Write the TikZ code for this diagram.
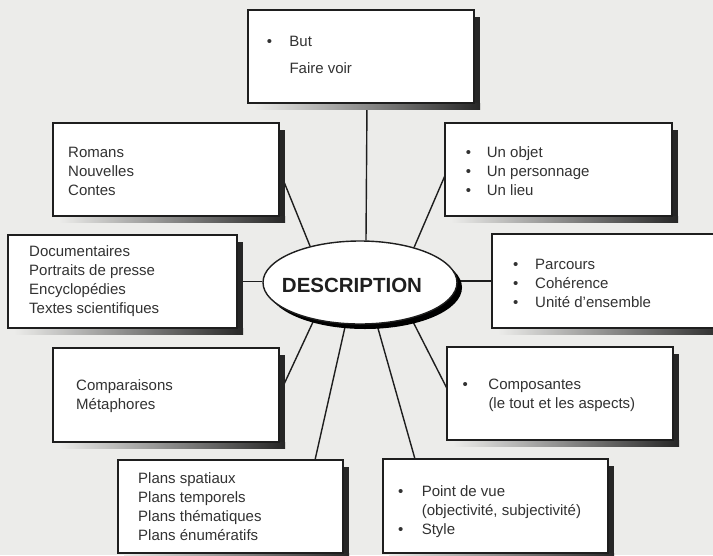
\documentclass[tikz,border=0pt]{standalone}
\usepackage{fontspec}
\setmainfont{Liberation Sans}
\usetikzlibrary{shapes.geometric}
\definecolor{paper}{RGB}{236,236,234}
\definecolor{ink}{RGB}{50,50,50}
\definecolor{edge}{RGB}{30,30,30}
\newcommand{\bul}[1]{\makebox[#1][l]{\textbullet}}
\newcommand{\txtrows}[1]{\begin{tabular}[t]{@{}l@{}}#1\end{tabular}}
\newcommand{\shbox}[5]{%
  \fill[black!85] (#4,#3+7) rectangle (#4+6,#5+6);
  \shade[left color=paper,right color=black!85] (#2+6,#5) rectangle (#4+6,#5+6);
  \node[boxnode, minimum width={(#4-#2)*1pt}, minimum height={(#5-#3)*1pt}] (#1) at ({(#2+#4)/2},{(#3+#5)/2}) {};
}
\pgfdeclarelayer{paperlayer}
\pgfdeclarelayer{linelayer}
\pgfsetlayers{paperlayer,linelayer,main}
\tikzset{
  boxnode/.style={draw=edge, fill=white, line width=1.4pt, inner sep=0pt, outer sep=0pt},
  txt/.style={inner sep=0pt, anchor=base west, text=ink, font=\fontsize{15}{19}\selectfont},
  conn/.style={draw=edge, line width=1.4pt},
}
\begin{document}
\begin{tikzpicture}[x=1pt, y=-1pt]
\useasboundingbox (0,0) rectangle (713,555);
\begin{pgfonlayer}{paperlayer}
  \fill[paper] (0,0) rectangle (713,555);
\end{pgfonlayer}

% boxes
\shbox{top}{248}{10}{474}{103}
\shbox{rom}{53}{123}{279}{216}
\shbox{doc}{8}{235}{237}{328}
\shbox{comp}{53}{348}{279}{442}
\shbox{plans}{118}{460}{343}{553}
\shbox{obj}{445}{123}{672}{216}
\shbox{parc}{492}{234}{722}{328}
\shbox{compo}{447}{347}{673}{440}
\shbox{pdv}{383}{459}{608}{553}

% central ellipse
\node[ellipse, fill=black, minimum width=194pt, minimum height=83pt, inner sep=0pt] (ellsh) at (365,287.5) {};
\node[ellipse, draw=edge, fill=white, line width=1.4pt, minimum width=194pt, minimum height=83pt, inner sep=0pt] (ell) at (360,282.5) {};
\node[inner sep=0pt, anchor=base, text=black!88, font=\fontsize{20.5}{24}\selectfont\bfseries] (desc) at (352,292.5) {DESCRIPTION};

% connectors
\begin{pgfonlayer}{linelayer}
  \draw[conn] ([xshift=6pt]top.south) -- ([xshift=6pt]ell.north);
  \draw[conn] (rom.east) -- (ell.144);
  \draw[conn] (doc.east) -- (doc.east -| ell.west);
  \draw[conn] (comp.east) -- (ell.219);
  \draw[conn] ([xshift=-28pt]plans.north east) -- (ell.251);
  \draw[conn] ([yshift=-6pt]obj.west) -- (ell.33);
  \draw[conn] (ell.east |- parc.west) -- (parc.west);
  \draw[conn] ([yshift=5pt]compo.west) -- (ell.-35);
  \draw[conn] ([xshift=32pt]pdv.north west) -- (ell.-68);
\end{pgfonlayer}

% texts
\node[txt] (topt) at (266.7,46) {\txtrows{\bul{22.6pt}But\\[8pt]\hspace*{22.6pt}Faire voir}};
\node[txt] (romt) at (68,157) {\txtrows{Romans\\Nouvelles\\Contes}};
\node[txt] (doct) at (29,256) {\txtrows{Documentaires\\Portraits de presse\\Encyclopédies\\Textes scientifiques}};
\node[txt] (compt) at (76,390) {\txtrows{Comparaisons\\Métaphores}};
\node[txt] (planst) at (138,483) {\txtrows{Plans spatiaux\\Plans temporels\\Plans thématiques\\Plans énumératifs}};
\node[txt] (objt) at (465.7,157) {\txtrows{\bul{21pt}Un objet\\\bul{21pt}Un personnage\\\bul{21pt}Un lieu}};
\node[txt] (parct) at (513,269) {\txtrows{\bul{22pt}Parcours\\\bul{22pt}Cohérence\\\bul{22pt}Unité d’ensemble}};
\node[txt] (compot) at (462.4,389) {\txtrows{\bul{25.9pt}Composantes\\\hspace*{25.9pt}(le tout et les aspects)}};
\node[txt] (pdvt) at (398,496) {\txtrows{\bul{23.6pt}Point de vue\\\hspace*{23.6pt}(objectivité, subjectivité)\\\bul{23.6pt}Style}};
\end{tikzpicture}
\end{document}
